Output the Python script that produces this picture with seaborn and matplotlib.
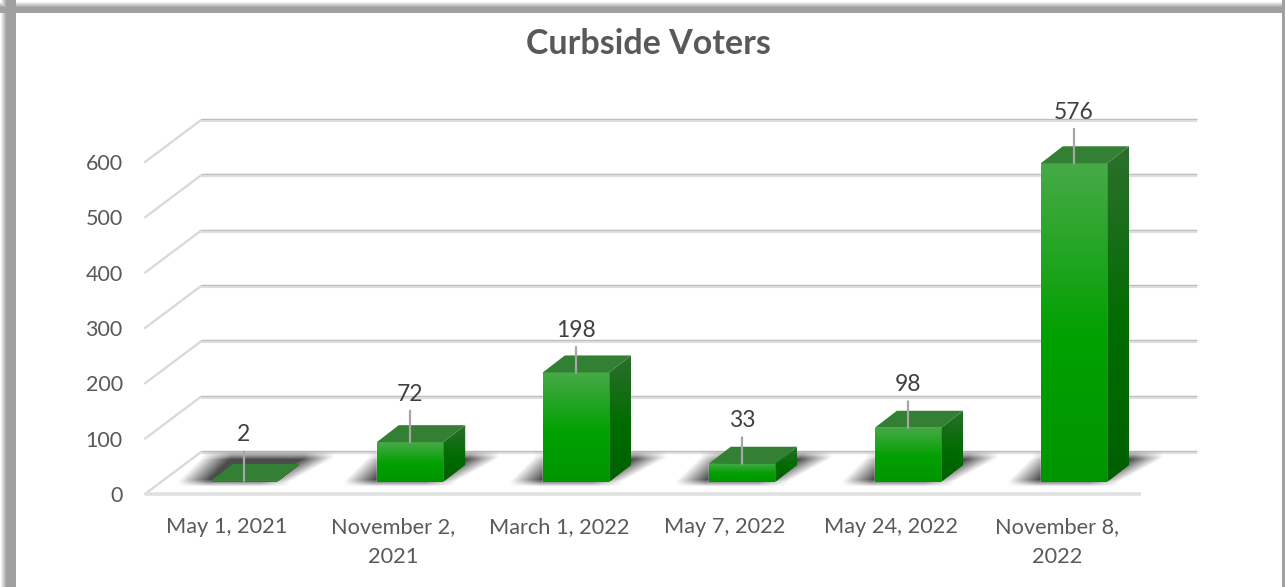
import numpy as np
import seaborn as sns
import matplotlib.pyplot as plt
from matplotlib.patches import Polygon
from matplotlib.transforms import ScaledTranslation
from matplotlib.colors import LinearSegmentedColormap

# Values
dates = ['May 1, 2021', 'November 2,\n2021', 'March 1, 2022', 'May 7, 2022', 'May 24, 2022', 'November 8,\n2022']
voters = [2, 72, 198, 33, 98, 576]
y_ticks = [0, 100, 200, 300, 400, 500, 600]

# Leader length per label, in pixels
label_lift = [46, 48, 42, 43, 43, 51]

sns.set_theme(style='white')
plt.rcParams['font.family'] = ['Lato', 'DejaVu Sans']

W, H = 1285, 587
fig = plt.figure(figsize=(W / 100, H / 100), dpi=100, facecolor='white')
ax = fig.add_axes([161 / W, (H - 482) / H, 996 / W, 332 / H])
ax.set_facecolor('none')

sns.barplot(x=dates, y=voters, color='#009a00', width=0.4, saturation=1, ax=ax, zorder=4)

# pixel sizes to data units
px_x = 6 / 996
px_y = 600 / 332

front_cmap = LinearSegmentedColormap.from_list('front', [(0, '#47aa47'), (0.55, '#00a000'), (1, '#009500')])
side_cmap = LinearSegmentedColormap.from_list('side', [(0, '#2c6f2c'), (0.55, '#006c00'), (1, '#005f00')])
ramp = np.linspace(0, 1, 128).reshape(-1, 1)


def gradient(cmap, points, zorder):
    # vertical gradient clipped to a polygon
    xs, ys = zip(*points)
    im = ax.imshow(ramp, cmap=cmap, aspect='auto', zorder=zorder, interpolation='bilinear',
                   extent=(min(xs), max(xs), min(ys), max(ys)), origin='upper')
    clip = Polygon(points, closed=True, transform=ax.transData, fill=False, edgecolor='none', clip_on=False)
    ax.add_patch(clip)
    im.set_clip_path(clip)
    im.set_clip_box(fig.bbox)


def shadow(x0, x1):
    # blurred parallelogram on the floor behind a bar
    rows, cols = 40, 280
    left_px = -50
    alpha = np.zeros((rows, cols))
    for r in range(rows):
        t = np.clip((r - 8) / 24, 0, 1)
        lo = -10 - 24 * t
        hi = (x1 - x0) / px_x + 56 - 44 * t
        xx = np.arange(cols) + left_px
        fade_x = np.clip((xx - lo) / 30, 0, 1) * np.clip((hi - xx) / 30, 0, 1)
        fade_y = np.clip((r - 1) / 9, 0, 1) * np.clip((rows - 3 - r) / 7, 0, 1)
        alpha[r] = fade_x * fade_y * 0.88
    rgba = np.zeros((rows, cols, 4))
    rgba[..., :3] = 0.2
    rgba[..., 3] = alpha
    ax.imshow(rgba, aspect='auto', zorder=2, interpolation='bilinear', clip_on=False,
              extent=(x0 + left_px * px_x, x0 + (left_px + cols) * px_x, -7 * px_y, 33 * px_y))


depth_x, depth_y = 22 * px_x, 17 * px_y

for bar, v in zip(ax.patches, voters):
    x0, x1 = bar.get_x(), bar.get_x() + bar.get_width()
    shadow(x0, x1)
    gradient(front_cmap, [(x0, 0), (x1, 0), (x1, v), (x0, v)], 5)
    gradient(side_cmap, [(x1, 0), (x1 + depth_x, depth_y), (x1 + depth_x, v + depth_y), (x1, v)], 5)
    ax.add_patch(Polygon([(x0, v), (x1, v), (x1 + depth_x, v + depth_y), (x0 + depth_x, v + depth_y)],
                         closed=True, facecolor='#337f33', edgecolor='none', zorder=6, clip_on=False))

# Walls and floor
back_x0, back_x1 = -0.5 + 40 * px_x, 5.5 + 40 * px_x
front_x0, front_x1 = -0.5 - 16 * px_x, 5.5 - 16 * px_x
lift_back, drop_front = 30 * px_y, -12 * px_y
for t in y_ticks:
    ax.plot([front_x0, back_x0], [t + drop_front, t + lift_back], color='#dadada', lw=1.7, zorder=1, clip_on=False)
    ax.plot([back_x0, back_x1], [t + lift_back + px_y, t + lift_back + px_y], color='#bcbcbc', lw=1, zorder=1,
            clip_on=False, solid_capstyle='butt')
    ax.plot([back_x0, back_x1], [t + lift_back - px_y, t + lift_back - px_y], color='#dedede', lw=1.5, zorder=1,
            clip_on=False, solid_capstyle='butt')
ax.plot([front_x0, front_x1], [drop_front, drop_front], color='#e0e0e0', lw=2.6, zorder=1, clip_on=False,
        solid_capstyle='butt')

# Data labels with leader lines
for i, v in enumerate(voters):
    ax.annotate(str(v), xy=(i, v), xytext=(0, label_lift[i]), textcoords='offset pixels',
                ha='center', va='center', fontsize=16.5, color='#404040', zorder=8, annotation_clip=False,
                arrowprops=dict(arrowstyle='-', color='#a6a6a6', lw=1.6, shrinkA=2, shrinkB=0))

ax.set_xlim(-0.5, 5.5)
ax.set_ylim(0, 600)
ax.set_yticks(y_ticks)
ax.set_xticks(range(len(dates)))
ax.set_xticklabels(dates, fontsize=15.7, color='#595959', linespacing=1.62, ma='center')
ax.tick_params(axis='y', labelsize=15.5, labelcolor='#595959', length=0, pad=27.5)
ax.tick_params(axis='x', length=0, pad=25.5)
sns.despine(ax=ax, left=True, bottom=True)

x_shift = ScaledTranslation(-17 / 100, 0, fig.dpi_scale_trans)
y_shift = ScaledTranslation(0, -12 / 100, fig.dpi_scale_trans)
for label in ax.get_xticklabels():
    label.set_transform(label.get_transform() + x_shift)
for label in ax.get_yticklabels():
    label.set_transform(label.get_transform() + y_shift)

fig.suptitle('Curbside Voters', x=648 / W, y=1 - 44 / H, va='center', ha='center',
             fontsize=24.5, fontweight='bold', color='#595959')

# Soft grey picture frame
xx, yy = np.meshgrid(np.arange(W), np.arange(H))
frame = np.full((H, W), 255.0)
frame = np.minimum(frame, np.where(xx < 16, np.interp(xx, [0, 6], [255, 160]), 255))
frame = np.minimum(frame, np.where(yy < 13, np.interp(yy, [1, 7], [255, 160]), 255))
frame = np.where(xx >= 1282, 160, frame)
frame_rgba = np.dstack([frame / 255] * 3 + [(frame < 255).astype(float)])
over = fig.add_axes([0, 0, 1, 1], zorder=10)
over.imshow(frame_rgba, aspect='auto', interpolation='nearest')
over.axis('off')

fig.savefig('out.png', dpi=100)
